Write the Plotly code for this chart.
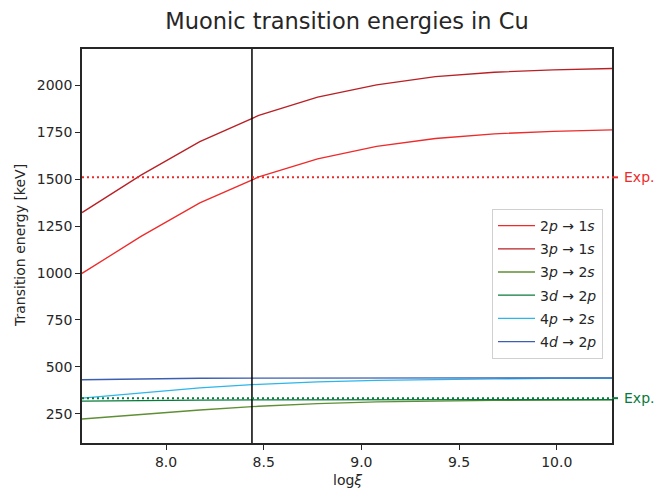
import plotly.graph_objects as go

# ---- data ----
log_xi = [7.570, 7.872, 8.173, 8.475, 8.776, 9.078, 9.379, 9.681, 9.982, 10.283]

e_2p_1s = [998, 1195, 1374, 1512, 1608, 1675, 1717, 1742, 1755, 1763]
e_3p_1s = [1322, 1522, 1700, 1840, 1937, 2003, 2047, 2070, 2083, 2090]
e_3p_2s = [222, 247, 270, 290, 304, 313, 318, 321, 323, 324]
e_3d_2p = [317, 321, 323, 324, 325, 325, 325, 325, 325, 325]
e_4p_2s = [333, 362, 388, 407, 420, 428, 433, 436, 438, 439]
e_4d_2p = [431, 436, 439, 440, 441, 441, 441, 441, 441, 441]

series_names = ["2<i>p</i> → 1<i>s</i>", "3<i>p</i> → 1<i>s</i>", "3<i>p</i> → 2<i>s</i>",
                "3<i>d</i> → 2<i>p</i>", "4<i>p</i> → 2<i>s</i>", "4<i>d</i> → 2<i>p</i>"]
series_vals = [e_2p_1s, e_3p_1s, e_3p_2s, e_3d_2p, e_4p_2s, e_4d_2p]
series_colors = ["#ee2a2a", "#b82025", "#5f8f35", "#0a7a3c", "#2db6ea", "#3c5fb1"]

exp_values = [1510, 333]
exp_colors = ["#ee2a2a", "#0a7a3c"]
exp_label = "Exp."

vline_x = 8.44

x_ticks = [8.0, 8.5, 9.0, 9.5, 10.0]
y_ticks = [250, 500, 750, 1000, 1250, 1500, 1750, 2000]

FONT = "DejaVu Sans"
INK = "#262626"
W, H = 659, 488
ML, MR, MT, MB = 82, 47, 49, 45
PW, PH = W - ML - MR, H - MT - MB

fig = go.Figure()
for name, vals, col in zip(series_names, series_vals, series_colors):
    fig.add_trace(go.Scatter(x=log_xi, y=vals, mode="lines", name=name,
                             line=dict(color=col, width=1.3), legendgroup=name))

# vertical line
fig.add_shape(type="line", xref="x", yref="paper", x0=vline_x, x1=vline_x, y0=0, y1=1,
              line=dict(color="black", width=1.5))

# experimental lines
for v, c in zip(exp_values, exp_colors):
    fig.add_shape(type="line", xref="paper", yref="y", x0=0, x1=1, y0=v, y1=v,
                  line=dict(color=c, width=2, dash="2px,3px"))
    fig.add_shape(type="line", xref="paper", yref="y", x0=1, x1=1 + 6 / PW, y0=v, y1=v,
                  line=dict(color=c, width=2))
    fig.add_annotation(xref="paper", yref="y", x=1 + 10 / PW, y=v, text=exp_label,
                       showarrow=False, xanchor="left", yanchor="middle",
                       font=dict(family=FONT, size=14, color=c))

# axis titles as annotations
fig.add_annotation(xref="paper", yref="paper", x=0.5, y=-(480 - 443) / PH, text="log<i>ξ</i>",
                   showarrow=False, xanchor="center", yanchor="middle",
                   font=dict(family=FONT, size=14, color=INK))
fig.add_annotation(xref="paper", yref="paper", x=-(ML - 20) / PW, y=0.5,
                   text="Transition energy [keV]", textangle=-90,
                   showarrow=False, xanchor="center", yanchor="middle",
                   font=dict(family=FONT, size=14, color=INK))

fig.update_layout(
    width=W, height=H,
    margin=dict(l=ML, r=MR, t=MT, b=MB, autoexpand=False),
    paper_bgcolor="white", plot_bgcolor="white",
    font=dict(family=FONT, size=14, color=INK),
    title=dict(text="Muonic transition energies in Cu", x=(ML + PW / 2) / W, xanchor="center",
               y=1 - 21 / H, yanchor="middle", font=dict(family=FONT, size=22.5, color=INK)),
    showlegend=True,
    legend=dict(x=(492 - ML) / PW, y=(443 - 209) / PH, xanchor="left", yanchor="top",
                bordercolor="#d0d0d0", borderwidth=1, bgcolor="rgba(255,255,255,0.8)",
                font=dict(family=FONT, size=14, color=INK), tracegroupgap=2,
                traceorder="grouped", itemwidth=37),
)
fig.update_xaxes(range=[log_xi[0], log_xi[-1]], tickvals=x_ticks,
                 ticktext=[f"{t:.1f}" for t in x_ticks], automargin=False,
                 showgrid=False, zeroline=False, showline=True, linecolor=INK, linewidth=1.5,
                 mirror=True, ticks="outside", ticklen=5, tickwidth=1.3, tickcolor=INK)
fig.update_yaxes(range=[94, 2194], tickvals=y_ticks, automargin=False,
                 showgrid=False, zeroline=False, showline=True, linecolor=INK, linewidth=1.5,
                 mirror=True, ticks="outside", ticklen=5, tickwidth=1.3, tickcolor=INK)

fig.write_html("out.html", config={"displayModeBar": False},
               post_script="document.body.style.margin='0';document.body.style.padding='0';")
